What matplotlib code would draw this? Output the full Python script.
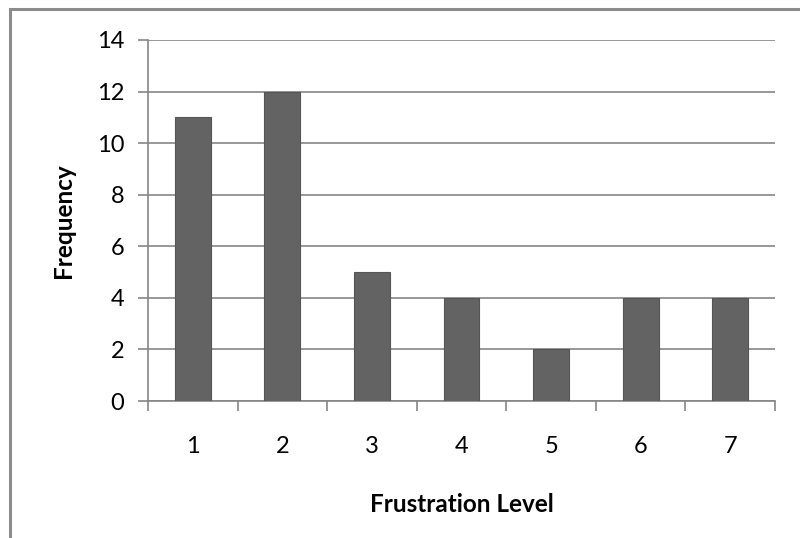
import numpy as np
import matplotlib.pyplot as plt
from matplotlib.patches import Rectangle

# Dados do gráfico
niveis = ["1", "2", "3", "4", "5", "6", "7"]
frequencias = [11, 12, 5, 4, 2, 4, 4]
ticks_y = [0, 2, 4, 6, 8, 10, 12, 14]

plt.rcParams['font.family'] = ['Lato', 'DejaVu Sans']

fig = plt.figure(figsize=(8, 5.38), dpi=100)
ax = fig.add_axes([148 / 800, 1 - 401 / 538, (775 - 148) / 800, (401 - 40) / 538])

# Borda externa do gráfico (estilo Excel)
fig.patches.append(Rectangle((10 / 800, -0.1), 1.2, (538 - 9) / 538 + 0.1,
                             transform=fig.transFigure, fill=False,
                             edgecolor="#8c8c8c", linewidth=2.2))

x = np.arange(len(niveis))
ax.bar(x, frequencias, width=0.4, color="#636363", edgecolor="#555555",
       linewidth=0.8, zorder=3)

ax.set_xlim(-0.5, len(niveis) - 0.5)
ax.set_ylim(0, 14)
ax.set_yticks(ticks_y)
ax.set_xticks(x)
ax.set_xticklabels(niveis)
ax.set_xticks(np.arange(-0.5, len(niveis)), minor=True)
ax.tick_params(axis="x", which="major", length=0, pad=25, labelsize=17)
ax.tick_params(axis="x", which="minor", length=7, width=1.2, color="#868686")
ax.tick_params(axis="y", length=7, width=1.2, color="#868686", pad=10, labelsize=17)

ax.grid(axis="y", color="#868686", linewidth=1.2, zorder=0)
for lado in ["top", "right"]:
    ax.spines[lado].set_visible(False)
for lado in ["left", "bottom"]:
    ax.spines[lado].set_color("#868686")
    ax.spines[lado].set_linewidth(1.2)

ax.set_xlabel("Frustration Level", fontweight="bold", fontsize=17.5, labelpad=26)
ax.set_ylabel("Frequency", fontweight="bold", fontsize=17.5, labelpad=16)

fig.savefig("out.png", dpi=100)
